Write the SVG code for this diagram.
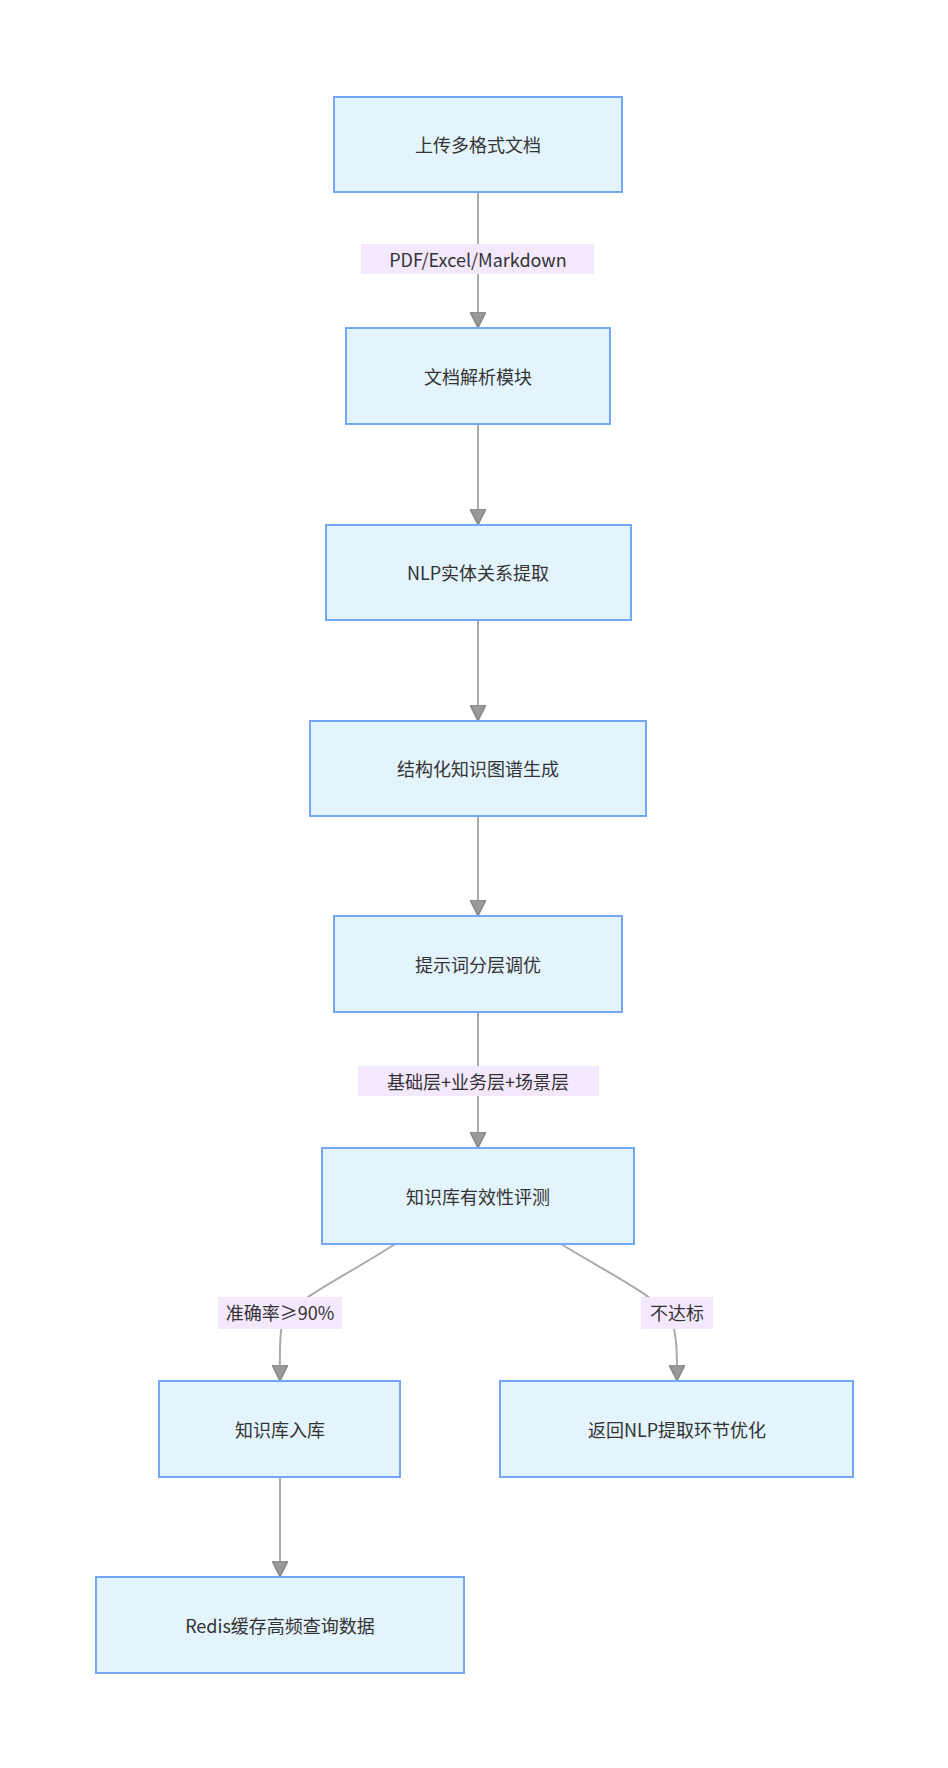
<svg xmlns="http://www.w3.org/2000/svg" width="948" height="1768" viewBox="0 0 948 1768">
<style>
.n rect{fill:#e3f4fd;stroke:#74a7f5;stroke-width:2}
text{font-family:"Noto Sans CJK SC","Noto Sans",sans-serif;font-size:18px;fill:#333;text-anchor:middle;dominant-baseline:central}
.e path{fill:none;stroke:#aaa;stroke-width:2}
.l rect{fill:#f3e8fc}
</style>
<defs><marker id="a" viewBox="0 0 10 10" refX="9" refY="5" markerWidth="8" markerHeight="8" orient="auto"><path d="M0,0L10,5L0,10z" fill="#999" stroke="#888"/></marker></defs>
<g class="e">
<path d="M478,192V326" marker-end="url(#a)"/>
<path d="M478,424V523" marker-end="url(#a)"/>
<path d="M478,620V719" marker-end="url(#a)"/>
<path d="M478,816V914" marker-end="url(#a)"/>
<path d="M478,1012V1146" marker-end="url(#a)"/>
<path d="M395,1244C340,1280 290,1300 282,1325C279,1340 280,1355 280,1379" marker-end="url(#a)"/>
<path d="M561,1244C620,1280 665,1300 673,1325C677,1340 677,1355 677,1379" marker-end="url(#a)"/>
<path d="M280,1477V1575" marker-end="url(#a)"/>
</g>
<g class="l">
<rect x="361" y="244" width="233" height="30"/><text x="478" y="259">PDF/Excel/Markdown</text>
<rect x="358" y="1066" width="241" height="30"/><text x="478" y="1081">基础层+业务层+场景层</text>
<rect x="218" y="1297" width="124" height="32"/><text x="280" y="1312">准确率≥90%</text>
<rect x="641" y="1297" width="72" height="32"/><text x="677" y="1312">不达标</text>
</g>
<g id="n1" class="n"><rect x="334" y="97" width="288" height="95"/><text x="478" y="144">上传多格式文档</text></g>
<g id="n2" class="n"><rect x="346" y="328" width="264" height="96"/><text x="478" y="376">文档解析模块</text></g>
<g id="n3" class="n"><rect x="326" y="525" width="305" height="95"/><text x="478" y="572">NLP实体关系提取</text></g>
<g id="n4" class="n"><rect x="310" y="721" width="336" height="95"/><text x="478" y="768">结构化知识图谱生成</text></g>
<g id="n5" class="n"><rect x="334" y="916" width="288" height="96"/><text x="478" y="964">提示词分层调优</text></g>
<g id="n6" class="n"><rect x="322" y="1148" width="312" height="96"/><text x="478" y="1196">知识库有效性评测</text></g>
<g id="n7" class="n"><rect x="159" y="1381" width="241" height="96"/><text x="280" y="1429">知识库入库</text></g>
<g id="n8" class="n"><rect x="500" y="1381" width="353" height="96"/><text x="677" y="1429">返回NLP提取环节优化</text></g>
<g id="n9" class="n"><rect x="96" y="1577" width="368" height="96"/><text x="280" y="1625">Redis缓存高频查询数据</text></g>
</svg>
